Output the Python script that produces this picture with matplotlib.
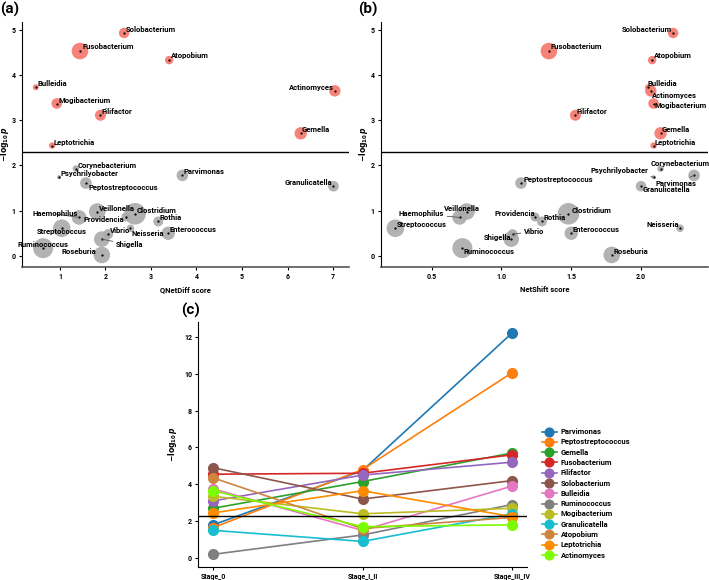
import matplotlib
matplotlib.use('Agg')
import matplotlib.pyplot as plt
import numpy as np

plt.rcParams['font.family'] = ['Roboto', 'DejaVu Sans']
plt.rcParams['font.weight'] = 'bold'
plt.rcParams['axes.labelweight'] = 'bold'
plt.rcParams['mathtext.fontset'] = 'dejavusans'

# ---- panels (a) and (b): bubble data ----
taxa = ['Solobacterium', 'Fusobacterium', 'Atopobium', 'Bulleidia', 'Mogibacterium',
        'Filifactor', 'Leptotrichia', 'Actinomyces', 'Gemella',
        'Corynebacterium', 'Psychrilyobacter', 'Peptostreptococcus', 'Parvimonas',
        'Granulicatella', 'Veillonella', 'Haemophilus', 'Clostridium', 'Providencia',
        'Rothia', 'Streptococcus', 'Vibrio', 'Neisseria', 'Enterococcus',
        'Ruminococcus', 'Shigella', 'Roseburia']
neglogp = [4.93, 4.53, 4.33, 3.73, 3.37, 3.11, 2.44, 3.65, 2.71,
           1.93, 1.74, 1.61, 1.78, 1.54, 0.98, 0.85, 0.93, 0.86,
           0.76, 0.61, 0.48, 0.61, 0.50, 0.17, 0.37, 0.02]
qnetdiff = [2.41, 1.44, 3.40, 0.47, 0.93, 1.89, 0.83, 7.04, 6.29,
            1.35, 0.98, 1.57, 3.69, 7.01, 1.82, 1.42, 2.65, 2.45,
            3.16, 1.04, 2.06, 2.55, 3.38, 0.63, 1.92, 1.92]
netshift = [2.23, 1.34, 2.08, 2.05, 2.09, 1.53, 2.09, 2.07, 2.14,
            2.14, 2.09, 1.14, 2.38, 2.00, 0.75, 0.70, 1.48, 1.24,
            1.29, 0.24, 1.08, 2.28, 1.50, 0.72, 1.07, 1.79]
weight = [5.2, 8.3, 4.2, 3.0, 5.3, 5.5, 3.2, 5.7, 6.2,
          3.3, 2.0, 5.8, 5.8, 5.3, 8.3, 7.3, 10.8, 4.5,
          5.0, 8.8, 5.0, 3.8, 6.7, 10.0, 7.8, 8.3]
cutoff = 2.3

# label placement: (dx, dy in points, ha, va, leader line)
lab_a = {
    'Solobacterium': (1, 0, 'left', 'bottom', False),
    'Fusobacterium': (2, 1, 'left', 'bottom', False),
    'Atopobium': (1, 1, 'left', 'bottom', False),
    'Bulleidia': (1, 0, 'left', 'bottom', False),
    'Mogibacterium': (1, 0, 'left', 'bottom', False),
    'Filifactor': (1, 0, 'left', 'bottom', False),
    'Leptotrichia': (1, 0, 'left', 'bottom', False),
    'Actinomyces': (-1, 0, 'right', 'bottom', False),
    'Gemella': (1, 0, 'left', 'bottom', False),
    'Corynebacterium': (1, 0, 'left', 'bottom', False),
    'Psychrilyobacter': (1, 0, 'left', 'bottom', False),
    'Peptostreptococcus': (2, -1, 'left', 'top', False),
    'Parvimonas': (1, 0, 'left', 'bottom', False),
    'Granulicatella': (-1, 0, 'right', 'bottom', False),
    'Veillonella': (1, 0, 'left', 'bottom', False),
    'Haemophilus': (-1, 0, 'right', 'bottom', True),
    'Clostridium': (1, 0, 'left', 'bottom', False),
    'Providencia': (-1, 1, 'right', 'top', False),
    'Rothia': (1, 0, 'left', 'bottom', False),
    'Streptococcus': (0, 0, 'center', 'top', False),
    'Vibrio': (1, 0, 'left', 'bottom', False),
    'Neisseria': (1, -1, 'left', 'top', False),
    'Enterococcus': (1, 0, 'left', 'bottom', False),
    'Ruminococcus': (0, 0, 'center', 'bottom', False),
    'Shigella': (10, -4, 'left', 'center', True),
    'Roseburia': (-4, 0, 'right', 'bottom', False),
}
lab_b = {
    'Solobacterium': (-1, 0, 'right', 'bottom', False),
    'Fusobacterium': (1, 1, 'left', 'bottom', False),
    'Atopobium': (1, 1, 'left', 'bottom', False),
    'Bulleidia': (0, 0, 'left', 'bottom', False),
    'Mogibacterium': (1, 1, 'left', 'top', False),
    'Filifactor': (1, 0, 'left', 'bottom', False),
    'Leptotrichia': (1, 0, 'left', 'bottom', False),
    'Actinomyces': (1, -1, 'left', 'top', False),
    'Gemella': (1, 0, 'left', 'bottom', False),
    'Corynebacterium': (-7, 1, 'left', 'bottom', False),
    'Psychrilyobacter': (-4, 2, 'right', 'bottom', True),
    'Peptostreptococcus': (2, 0, 'left', 'bottom', False),
    'Parvimonas': (-28, -6, 'left', 'center', True),
    'Granulicatella': (1, 0, 'left', 'top', False),
    'Veillonella': (-3, 0, 'center', 'bottom', False),
    'Haemophilus': (-11, 0, 'right', 'bottom', True),
    'Clostridium': (2, 0, 'left', 'bottom', False),
    'Providencia': (0, 0, 'right', 'bottom', False),
    'Rothia': (1, 0, 'left', 'bottom', False),
    'Streptococcus': (1, 0, 'left', 'bottom', False),
    'Vibrio': (8, 2, 'left', 'center', True),
    'Neisseria': (-1, 0, 'right', 'bottom', False),
    'Enterococcus': (1, 0, 'left', 'bottom', False),
    'Ruminococcus': (1, 0, 'left', 'top', False),
    'Shigella': (0, 1, 'right', 'center', False),
    'Roseburia': (1, 0, 'left', 'bottom', False),
}

# ---- panel (c): stage trajectories ----
stages = ['Stage_0', 'Stage_I_II', 'Stage_III_IV']
genera_c = ['Parvimonas', 'Peptostreptococcus', 'Gemella', 'Fusobacterium', 'Filifactor',
            'Solobacterium', 'Bulleidia', 'Ruminococcus', 'Mogibacterium', 'Granulicatella',
            'Atopobium', 'Leptotrichia', 'Actinomyces']
stage_vals = [
    [1.80, 4.75, 12.20],
    [1.65, 4.80, 10.05],
    [2.70, 4.15, 5.70],
    [4.55, 4.60, 5.60],
    [3.10, 4.50, 5.20],
    [4.90, 3.20, 4.20],
    [3.75, 1.50, 3.90],
    [0.20, 1.25, 2.90],
    [3.35, 2.40, 2.70],
    [1.50, 0.90, 2.40],
    [4.35, 1.60, 2.20],
    [2.45, 3.65, 2.25],
    [3.65, 1.70, 1.80],
]
colors_c = ['#1f77b4', '#ff7f0e', '#2ca02c', '#d62728', '#9467bd', '#8c564b', '#e377c2',
            '#7f7f7f', '#bcbd22', '#17becf', 'peru', 'darkorange', 'lawngreen']

FS = 5.5


def bubble_panel(ax, xvals, labels, xlabel):
    x = np.array(xvals)
    y = np.array(neglogp)
    s = (2 * np.array(weight) * 0.72) ** 2
    col = np.where(y > cutoff, '#F6766B', '#AAAAAA')
    ax.scatter(x, y, s=s, c=col, alpha=0.9, linewidths=0, zorder=2)
    ax.scatter(x, y, s=0.4, c='black', zorder=3)
    ax.axhline(cutoff, color='black', lw=1, zorder=1)
    for name, xi, yi in zip(taxa, x, y):
        dx, dy, ha, va, line = labels[name]
        ax.annotate(name, (xi, yi), xytext=(dx, dy), textcoords='offset points',
                    ha=ha, va=va, fontsize=FS, fontweight='bold', zorder=4,
                    arrowprops=dict(arrowstyle='-', lw=0.6, color='#555555',
                                    shrinkA=0, shrinkB=0) if line else None)
    ax.spines['top'].set_visible(False)
    ax.spines['right'].set_visible(False)
    ax.spines['bottom'].set_color('#555555')
    ax.spines['bottom'].set_linewidth(1.2)
    ax.set_ylim(-0.24, 5.18)
    ax.set_yticks([0, 1, 2, 3, 4, 5])
    ax.tick_params(labelsize=5, length=2.5, width=0.8, pad=2)
    ax.set_xlabel(xlabel, fontsize=FS, labelpad=4)
    ax.set_ylabel('$-\\log_{10}p$', fontsize=FS)
    ax.yaxis.set_label_coords(-0.033, 0.5)


fig = plt.figure(figsize=(7.09, 5.8), dpi=100)

ax_a = fig.add_axes([0.0306, 0.5402, 0.4616, 0.4224])
bubble_panel(ax_a, qnetdiff, lab_a, 'QNetDiff score')
ax_a.set_xlim(0.16, 7.35)
ax_a.set_xticks([1, 2, 3, 4, 5, 6, 7])

ax_b = fig.add_axes([0.537, 0.5402, 0.4616, 0.4224])
bubble_panel(ax_b, netshift, lab_b, 'NetShift score')
ax_b.set_xlim(0.135, 2.48)
ax_b.set_xticks([0.5, 1.0, 1.5, 2.0])

ax_c = fig.add_axes([0.2797, 0.023, 0.4632, 0.4224])
xs = np.arange(len(stages))
for name, vals, c in zip(genera_c, stage_vals, colors_c):
    ax_c.plot(xs, vals, '-o', color=c, lw=1.2, ms=7, label=name)
ax_c.axhline(cutoff, color='black', lw=1)
ax_c.set_xticks(xs)
ax_c.set_xticklabels(stages)
ax_c.set_xlim(-0.1, 2.1)
ax_c.set_ylim(-0.47, 12.83)
ax_c.set_yticks([0, 2, 4, 6, 8, 10, 12])
ax_c.spines['top'].set_visible(False)
ax_c.spines['right'].set_visible(False)
ax_c.tick_params(labelsize=5, length=2.5, width=0.8, pad=2)
ax_c.set_ylabel('$-\\log_{10}p$', fontsize=FS)
ax_c.yaxis.set_label_coords(-0.058, 0.5)
ax_c.legend(loc='center left', bbox_to_anchor=(1.034, 0.299), frameon=False, fontsize=FS,
            handlelength=2.0, labelspacing=0.43, borderpad=0, handletextpad=0.5,
            markerscale=0.9)

fig.text(0.0, 0.9845, '(a)', fontsize=11, fontweight='bold', va='center')
fig.text(0.505, 0.9845, '(b)', fontsize=11, fontweight='bold', va='center')
fig.text(0.256, 0.4655, '(c)', fontsize=11, fontweight='bold', va='center')

fig.savefig('out.png', dpi=100)
